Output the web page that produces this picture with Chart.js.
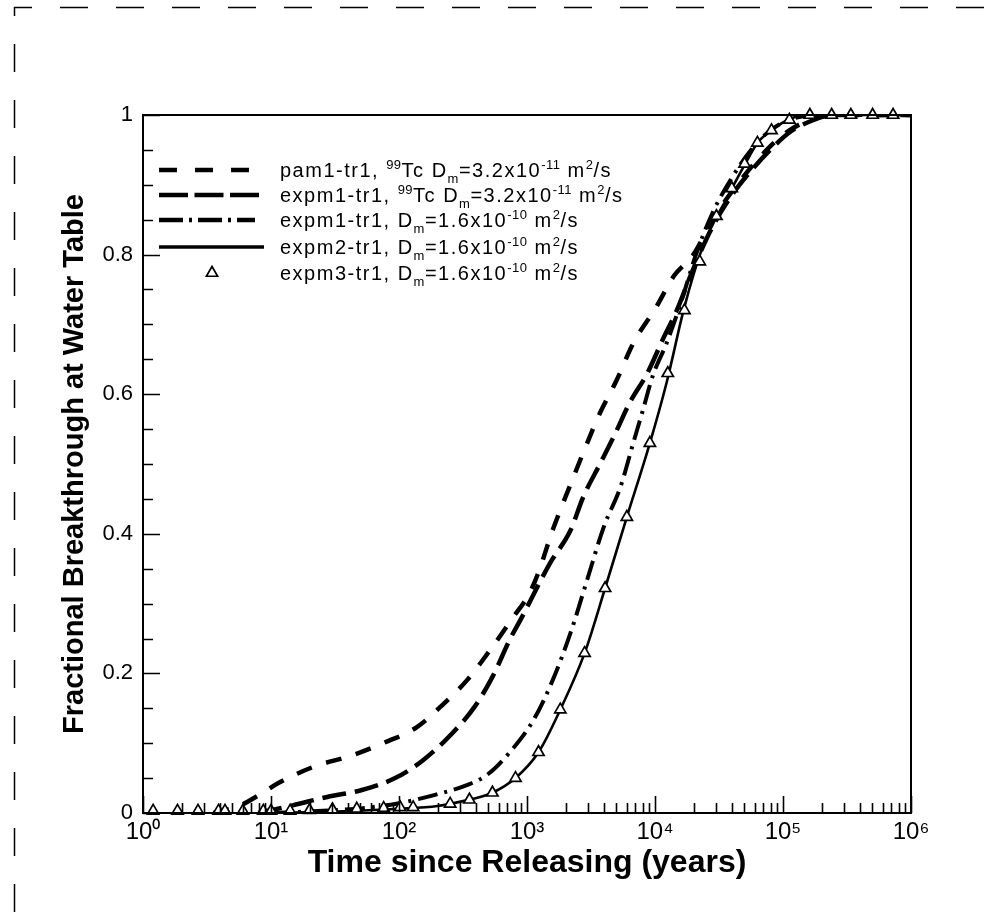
<!DOCTYPE html>
<html><head><meta charset="utf-8">
<script src="https://cdn.jsdelivr.net/npm/chart.js@4.4.0/dist/chart.umd.min.js"></script>
<style>html,body{margin:0;padding:0;background:#fff;overflow:hidden}canvas{display:block}</style>
</head><body>
<canvas id="c" width="1000" height="913" style="width:1000px;height:913px"></canvas>
<script>
// ---- data (time in years, fractional breakthrough) ----
const pamT = [3.55, 5.62, 7.94, 11.7, 21.4, 43.6, 75, 138, 219, 339, 513, 776, 1047, 1259, 1549, 1820, 2291, 2951, 3715, 5012, 6761, 10233, 14125, 19953, 28184, 39811, 56234, 79433, 112202, 158489, 251189, 1000000];
const pamF = [0, 0.01, 0.025, 0.044, 0.066, 0.083, 0.10, 0.123, 0.155, 0.19, 0.233, 0.28, 0.315, 0.35, 0.40, 0.434, 0.48, 0.53, 0.573, 0.62, 0.673, 0.725, 0.77, 0.80, 0.85, 0.89, 0.925, 0.955, 0.978, 0.992, 1.0, 1.0];

const exp1aT = [7.94, 14.8, 27.5, 51.3, 93.3, 155, 263, 389, 537, 741, 891, 1514, 2188, 2754, 3715, 4898, 6310, 8710, 11482, 14791, 19953, 28184, 39811, 56234, 79433, 112202, 158489, 251189, 1000000];
const exp1aF = [0, 0.011, 0.023, 0.033, 0.05, 0.076, 0.115, 0.152, 0.195, 0.25, 0.277, 0.358, 0.405, 0.453, 0.50, 0.544, 0.587, 0.63, 0.678, 0.72, 0.78, 0.84, 0.885, 0.92, 0.95, 0.975, 0.99, 1.0, 1.0];

const exp1bT = [10, 31.6, 52.5, 100, 191, 339, 490, 741, 1122, 1585, 2188, 2951, 3981, 5370, 6761, 8128, 9550, 12303, 15849, 20893, 28184, 39811, 56234, 79433, 112202, 158489, 251189, 1000000];
const exp1bF = [0, 0.004, 0.007, 0.014, 0.026, 0.04, 0.055, 0.088, 0.133, 0.19, 0.258, 0.334, 0.41, 0.467, 0.53, 0.58, 0.625, 0.673, 0.73, 0.80, 0.86, 0.91, 0.95, 0.978, 0.993, 0.999, 1.0, 1.0];

const exp2T = [10, 31.6, 100, 200, 316, 537, 813, 1230, 1820, 2818, 4074, 6026, 9120, 12303, 16982, 23442, 29512, 36308, 42658, 52481, 63096, 81283, 114815, 162181, 1000000];
const exp2F = [0, 0.002, 0.006, 0.01, 0.017, 0.029, 0.05, 0.087, 0.148, 0.229, 0.322, 0.424, 0.53, 0.616, 0.725, 0.81, 0.85, 0.88, 0.905, 0.935, 0.96, 0.978, 0.995, 1.0, 1.0];

const exp3T = [1.2, 1.86, 2.69, 3.89, 4.37, 6.03, 8.71, 10, 14.1, 20, 30.2, 46.8, 75.9, 102, 129, 251, 355, 537, 813, 1230, 1820, 2818, 4074, 6026, 9120, 12589, 16982, 22387, 30200, 39811, 50119, 63096, 81283, 112202, 162181, 239883, 338844, 501187, 724436];
const exp3F = [0.003, 0.003, 0.003, 0.003, 0.003, 0.003, 0.003, 0.003, 0.003, 0.004, 0.005, 0.006, 0.007, 0.008, 0.008, 0.013, 0.019, 0.029, 0.05, 0.087, 0.148, 0.229, 0.322, 0.424, 0.53, 0.63, 0.72, 0.79, 0.855, 0.895, 0.93, 0.96, 0.978, 0.993, 1.0, 1.0, 1.0, 1.0, 1.0];

// ---- ticks ----
const xMajorTicks = [1, 10, 100, 1000, 10000, 100000, 1000000];
const xTickLabels = ['10\u2070', '10\u00B9', '10\u00B2', '10\u00B3', '10\u2074', '10\u2075', '10\u2076'];
const yMajorTicks = [0, 0.2, 0.4, 0.6, 0.8, 1];
const yTickLabels = ['0', '0.2', '0.4', '0.6', '0.8', '1'];
const yMinorStep = 0.05;

// ---- legend text ----
const legendRows = [
  [['pam1-tr1, ','n'],['99','sup'],['Tc D','n'],['m','sub'],['=3.2x10','n'],['-11','sup'],[' m','n'],['2','sup'],['/s','n']],
  [['expm1-tr1, ','n'],['99','sup'],['Tc D','n'],['m','sub'],['=3.2x10','n'],['-11','sup'],[' m','n'],['2','sup'],['/s','n']],
  [['expm1-tr1, D','n'],['m','sub'],['=1.6x10','n'],['-10','sup'],[' m','n'],['2','sup'],['/s','n']],
  [['expm2-tr1, D','n'],['m','sub'],['=1.6x10','n'],['-10','sup'],[' m','n'],['2','sup'],['/s','n']],
  [['expm3-tr1, D','n'],['m','sub'],['=1.6x10','n'],['-10','sup'],[' m','n'],['2','sup'],['/s','n']]
];
const seriesNames = ['pam1-tr1 Tc 3.2e-11','expm1-tr1 Tc 3.2e-11','expm1-tr1 1.6e-10','expm2-tr1 1.6e-10','expm3-tr1 1.6e-10'];
const legendDash = [[18, 18], [29, 6.5], [24, 6, 3, 6], [], null];
const legendLen = [90, 100, 96, 105, 0];

const pts = (T, F) => T.map((t, i) => ({x: t, y: F[i]}));

const lineDs = (label, T, F, dash, w, order) => ({
  label, data: pts(T, F), borderColor: '#000', backgroundColor: '#000',
  borderWidth: w, borderDash: dash, pointRadius: 0, tension: 0.35,
  cubicInterpolationMode: 'monotone', fill: false, order, borderCapStyle: 'butt'
});

const datasets = [
  lineDs(seriesNames[0], pamT, pamF, [16, 15], 4.5, 4),
  lineDs(seriesNames[1], exp1aT, exp1aF, [24, 9], 4.5, 3),
  lineDs(seriesNames[2], exp1bT, exp1bF, [20, 7, 3, 7], 4, 2),
  lineDs(seriesNames[3], exp2T, exp2F, [], 2.6, 1),
  {
    label: seriesNames[4], data: pts(exp3T, exp3F), showLine: false,
    pointStyle: 'triangle', pointRadius: 6.5, pointBorderWidth: 1.7,
    pointBorderColor: '#000', pointBackgroundColor: '#fff', borderColor: '#000',
    order: 0, clip: false
  }
];

const FONT = "'Liberation Sans', Arial, Helvetica, sans-serif";

function drawRich(ctx, segs, x, y) {
  let cx = x;
  for (const [txt, kind] of segs) {
    let size = 20, dy = 0;
    if (kind === 'sup') { size = 13; dy = -8; }
    if (kind === 'sub') { size = 13; dy = 6; }
    ctx.font = size + 'px ' + FONT;
    ctx.letterSpacing = kind === 'n' ? '1.5px' : '0.5px';
    ctx.fillText(txt, cx, y + dy);
    cx += ctx.measureText(txt).width;
  }
}

const decor = {
  id: 'decor',
  beforeDraw(chart) {
    const ctx = chart.ctx;
    ctx.save(); ctx.fillStyle = '#fff'; ctx.fillRect(0, 0, chart.width, chart.height); ctx.restore();
  },
  afterDraw(chart) {
    const {ctx, chartArea: a, scales: {x, y}} = chart;
    ctx.save();
    ctx.strokeStyle = '#000';
    // frame
    ctx.lineWidth = 2;
    ctx.strokeRect(a.left, a.top, a.right - a.left, a.bottom - a.top);
    // ticks (inward)
    ctx.lineWidth = 1.6;
    ctx.beginPath();
    for (const v of xMajorTicks) {
      const px = Math.round(x.getPixelForValue(v)) + 0.5;
      ctx.moveTo(px, a.bottom); ctx.lineTo(px, a.bottom - 17);
      if (v < 1000000) {
        for (let k = 2; k <= 9; k++) {
          const mx = Math.round(x.getPixelForValue(v * k)) + 0.5;
          ctx.moveTo(mx, a.bottom); ctx.lineTo(mx, a.bottom - 10);
        }
      }
    }
    for (let v = 0; v <= 1.0001; v += yMinorStep) {
      const py = Math.round(y.getPixelForValue(v)) + 0.5;
      const major = yMajorTicks.some(m => Math.abs(m - v) < 1e-6);
      ctx.moveTo(a.left, py); ctx.lineTo(a.left + (major ? 17 : 10), py);
    }
    ctx.stroke();

    // legend
    const rowY = [170, 195, 220, 247, 273];
    const lx0 = 159, tx = 280;
    ctx.fillStyle = '#000';
    ctx.textBaseline = 'alphabetic';
    legendRows.forEach((segs, i) => {
      const ds = chart.data.datasets[i];
      const yy = rowY[i];
      if (ds.showLine === false) {
        ctx.save();
        ctx.lineWidth = 1.7;
        const r = 6.5, cx = 212;
        ctx.beginPath();
        ctx.moveTo(cx, yy - r);
        ctx.lineTo(cx + r * 0.866, yy + r * 0.5);
        ctx.lineTo(cx - r * 0.866, yy + r * 0.5);
        ctx.closePath();
        ctx.fillStyle = '#fff'; ctx.fill(); ctx.stroke();
        ctx.restore();
      } else {
        ctx.save();
        ctx.lineWidth = ds.borderWidth < 3 ? 3.5 : 4.5;
        ctx.setLineDash(legendDash[i]);
        ctx.beginPath(); ctx.moveTo(lx0, yy); ctx.lineTo(lx0 + legendLen[i], yy); ctx.stroke();
        ctx.restore();
      }
      drawRich(ctx, segs, tx, yy + 7);
    });
    ctx.letterSpacing = '0px';

    // page dashed border
    ctx.lineWidth = 1.5;
    ctx.setLineDash([28, 28]);
    ctx.lineDashOffset = 10;
    ctx.beginPath(); ctx.moveTo(14, 7.5); ctx.lineTo(1000, 7.5); ctx.stroke();
    ctx.lineDashOffset = 19;
    ctx.beginPath(); ctx.moveTo(14.5, 7); ctx.lineTo(14.5, 913); ctx.stroke();
    ctx.restore();
  }
};

new Chart(document.getElementById('c'), {
  type: 'line',
  data: {datasets},
  options: {
    responsive: false, animation: false, devicePixelRatio: 1,
    layout: {padding: {top: 115, right: 89, left: 0, bottom: 0}},
    plugins: {legend: {display: false}, tooltip: {enabled: false}},
    elements: {line: {borderJoinStyle: 'round'}},
    scales: {
      x: {
        type: 'logarithmic', min: 1, max: 1000000,
        grid: {display: false, drawTicks: false}, border: {display: false},
        afterBuildTicks(s) { s.ticks = xMajorTicks.map(v => ({value: v, major: true})); },
        afterFit(s) { s.height = 100; },
        ticks: {
          autoSkip: false, maxRotation: 0, padding: 5, color: '#000',
          font: {family: FONT, size: 24},
          callback: (v) => { const i = xMajorTicks.indexOf(v); return i >= 0 ? xTickLabels[i] : ''; }
        },
        title: {display: true, text: 'Time since Releasing (years)', color: '#000',
          font: {family: FONT, size: 32, weight: 'bold'}, padding: {top: 0, bottom: 31}}
      },
      y: {
        type: 'linear', min: 0, max: 1,
        grid: {display: false, drawTicks: false}, border: {display: false},
        afterBuildTicks(s) { s.ticks = yMajorTicks.map(v => ({value: v})); },
        afterFit(s) { s.width = 143; },
        ticks: {
          padding: 10, color: '#000', font: {family: FONT, size: 22},
          callback: (v) => { const i = yMajorTicks.findIndex(m => Math.abs(m - v) < 1e-9); return i >= 0 ? yTickLabels[i] : ''; }
        },
        title: {display: true, text: 'Fractional Breakthrough at Water Table', color: '#000',
          font: {family: FONT, size: 29, weight: 'bold'}, padding: {top: 58, bottom: 0}}
      }
    }
  },
  plugins: [decor]
});
</script>
</body></html>
